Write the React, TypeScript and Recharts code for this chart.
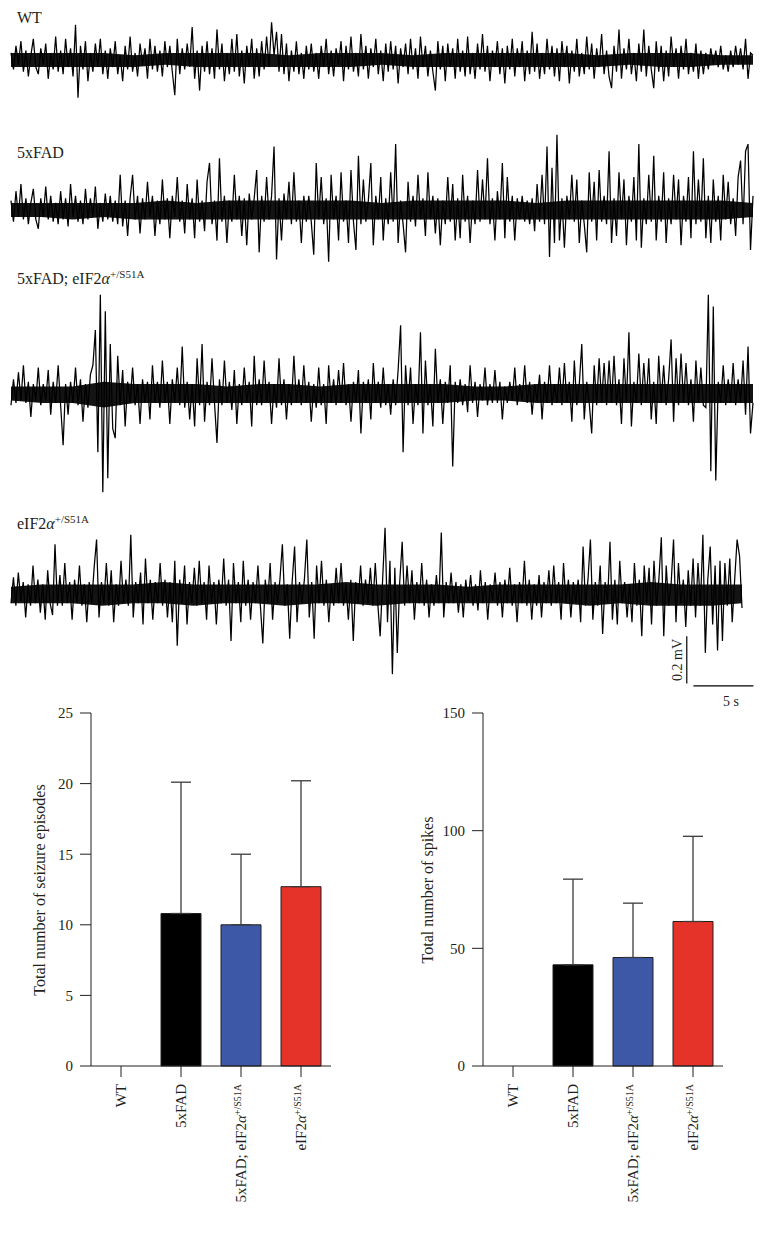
import React from "react";
import {
  ComposedChart,
  Line,
  Area,
  XAxis,
  YAxis,
  ReferenceLine,
  BarChart,
  Bar,
  Cell,
  ErrorBar,
} from "recharts";

// EEG traces, values in units of 0.01 mV
const wtTrace = [
  3, -4, 6, -2, 8, -5, 4, -7, 2, 9, -3, -6, 5, -2, 7, -8, 3, -4, 10, -5,
  4, -6, 9, -3, 5, -7, 15, -16, 6, -4, 8, -9, 3, -5, 7, -3, 9, -6, 4, -8,
  5, -3, 8, -6, 2, -9, 6, -4, 10, -5, 3, -7, 7, -2, 5, -8, 9, -4, 6, -5,
  4, -7, 8, -3, 6, -5, -15, 9, -6, 5, -4, 7, -3, 14, -8, 4, -13, 6, -5, 8,
  -6, 5, -8, 13, -4, 7, -9, 3, -6, 9, -5, 11, -7, 4, -10, 6, -3, 9, -8, 5,
  -7, 8, -4, 10, -3, 16, 2, 12, -5, 11, -6, 7, -9, 4, -5, 8, -6, 3, -8, 6,
  -4, 7, -5, 3, -8, 6, -3, 9, -6, 4, -7, 5, -2, 8, -9, 6, -4, 10, -5, 3,
  -7, 11, -4, 6, -8, 5, -3, 9, -6, 4, -9, 7, -5, 8, -4, 6, -10, 5, -3, 7,
  -6, 9, -4, 5, -8, 10, -3, 6, -7, 4, -5, -13, 8, -4, 6, -9, 7, -3, 5, -8,
  9, -5, 4, -7, 10, -6, 3, -8, 7, -4, 11, -5, 6, -9, 4, -3, 8, -6, 5, -10,
  6, -4, 9, -7, 5, -3, 8, -9, 4, -6, 12, -5, 7, -8, 3, -6, 9, -4, 6, -7,
  5, -9, 8, -3, 6, -10, 4, -5, 9, -7, 3, -6, 10, -4, 7, -8, 5, -3, 11, -6,
  4, -7, -12, 6, -5, 13, -8, 5, -4, 9, -6, 3, -9, 7, -5, 13, -7, 6, -4, -12,
  8, -5, 6, -9, 4, -7, 10, -3, 5, -8, 6, -4, 9, -6, 3, -5, 7, -8, 4, -6,
  3, -4, 5, -2, 4, -3, 6, -4, 2, -5, 4, -3, 6, -2, 5, -4, 9, -8, 3, 2,
];

const fadTrace = [
  4, -5, 8, -3, 11, -4, 5, -6, 3, 9, -4, -8, 5, -3, 10, -4, 6, -5, 3, -6,
  8, -4, 5, -7, 11, -3, 6, -5, 4, -6, 9, -4, 5, -3, 10, -8, 3, -5, 7, -4,
  6, -5, 4, -6, 15, -7, 4, -11, 5, 15, -4, 6, -10, 5, -4, 12, -3, 6, -11, 4,
  -6, 13, -4, 5, -12, 6, -3, 14, -5, 4, -10, 11, -4, 5, -12, 13, -5, 4, -9, 12,
  20, -6, 4, -13, 22, -5, 6, -14, 4, -5, 15, -4, 6, -11, 5, -15, 7, -4, 5, 17,
  -18, 6, -5, 14, -4, 6, 27, -21, 5, -13, 7, -4, 12, -6, 16, -5, 4, -14, 6, -5,
  6, -5, -19, 20, -4, 14, -6, 5, -22, 15, -4, 6, -13, 16, -5, 4, -14, 17, -5, -17,
  23, -6, 13, -5, 4, 20, -15, 6, -4, 14, -13, 5, -6, 16, -5, 28, -14, 4, -6, -18,
  12, -5, 6, -7, 15, -4, 5, -11, 16, -4, 6, -10, 5, -15, 4, -6, 14, -5, 11, -13,
  5, -12, 15, -5, 6, -14, 4, -6, 17, -5, 13, -4, 22, -6, 5, -13, 8, -4, 20, -12,
  14, -5, 6, -13, 5, -4, 6, -5, 4, -6, 5, -9, 11, -5, 15, -6, 27, -20, 18, -14,
  32, -13, 5, -16, 6, -4, 15, -5, 13, -14, 4, -6, -18, 16, -5, 12, -13, 17, -5, 6,
  -6, 25, -14, 5, -11, 16, -4, 13, -15, 6, -5, 14, -13, 28, -16, 5, -6, 15, -5, 23,
  -13, 6, -5, 16, -14, 5, -6, 15, -4, 13, -15, 6, -5, 14, -12, 25, -6, 13, -5, 22,
  -12, 6, -14, 13, -5, 6, -13, 15, -4, 12, -6, 5, -11, 14, 21, -6, 25, 28, -17, 6,
];

const fadS51aTrace = [
  -5, 6, -4, 9, -3, 12, -4, 5, -10, 4, -3, 11, -5, 4, -3, 10, -9, 5, -4, 12,
  -5, -22, 4, -9, 5, -4, 11, -5, 6, -12, 4, -6, 8, 12, 27, -25, 42, -42, 35, -36,
  21, -15, -19, 16, -5, 10, -14, 5, -4, 11, -5, 4, -13, 6, -4, 5, -11, 12, -4, 5,
  -6, 14, -4, 5, -13, 6, -4, 11, -5, 20, -6, 5, -11, 4, -14, 15, -5, 21, -12, 5,
  -5, 15, -4, -21, 6, -5, 14, -4, 5, -7, 10, -13, 4, -5, 11, -4, 5, -14, 16, -5,
  6, -5, 14, -4, 5, -13, 4, -6, 15, -5, 6, -11, 4, -5, 16, -4, 6, -5, 12, -4,
  5, -12, 4, -6, 11, -5, 4, -13, 12, -4, 6, -5, 10, -4, 13, -5, 4, -12, 5, -4,
  10, -17, 5, -4, 6, -11, 13, -4, 5, -6, 11, -5, 4, -9, 6, -5, 10, 29, -25, 12,
  -5, 11, -13, 4, -5, 26, -17, 14, -5, 4, -14, 19, -4, 6, -13, 5, -4, 12, -31, 5,
  -4, 6, -5, 4, -8, 12, -4, 5, -10, 4, -3, 11, -5, 4, -4, 10, -4, 5, -11, 3,
  -4, 5, -3, 11, -5, 4, -3, 12, -4, 5, -9, 4, -3, 8, -11, 5, -4, 12, -5, 4,
  -4, 11, -5, 13, -4, 5, -12, 14, -5, 4, 21, -11, 5, -4, -17, 12, -5, 15, -4, 13,
  -5, 14, -4, 16, -5, 6, -13, 15, -4, 26, -14, 5, -4, 17, -5, 13, -4, 15, -11, 5,
  -13, 16, -4, 12, -5, 6, 23, -12, 15, -5, 17, -4, 13, -5, 6, -12, 14, -4, 11, -5,
  -6, 42, -33, 37, -37, 5, -4, 12, -5, 6, -4, 13, -5, 6, -4, 14, -9, 20, -17, -4,
];

const s51aTrace = [
  -4, 7, -5, 9, -3, 5, -10, 4, -5, 12, -4, 6, -8, 4, -11, 10, -4, -9, 21, -5,
  8, -5, 13, -4, 5, -11, 6, -4, 12, -5, 4, -12, 5, -4, 11, 23, -10, 5, -4, 13,
  -5, 10, -12, 4, -5, 14, -4, 6, -5, 25, -10, 5, -4, 9, -13, 15, -4, 6, -11, 5,
  -4, 13, -5, 6, -10, 5, -12, 14, -22, 6, -4, 12, -13, 5, -4, 11, -5, 14, -4, 5,
  -11, 12, -4, 5, -13, 6, -4, 15, -5, 6, -20, 13, -4, 5, -12, 14, -5, 6, -11, 5,
  -4, 12, -5, -21, 6, -4, 13, -11, 5, -4, 6, 21, -5, 4, -19, 5, 20, -12, 5, -4,
  6, 23, -10, 5, -19, 12, -4, 14, -5, 6, -12, 4, -5, 11, -4, 13, -5, 4, -11, 6,
  -20, 5, -4, 12, -5, 6, -4, 11, -5, 13, -4, -18, 6, 28, -12, 14, -34, 11, -25, 5,
  22, -5, 12, -4, 10, -11, 5, -4, 13, -5, 6, -10, 4, -5, 8, -4, 26, -10, 5, -4,
  9, -4, 5, -8, 4, -10, 6, -3, 8, -5, 4, -7, 10, -4, 5, -11, 4, -3, 9, -5,
  5, -10, 6, -4, 11, -5, 4, -12, 5, -4, 14, -5, 6, -11, 4, -5, 8, -10, 5, -4,
  10, -5, 12, -4, 5, -11, 13, -4, 6, -10, 5, -4, 6, -12, 20, -5, 6, 23, -11, 5,
  -5, 12, -17, 5, -4, 22, -11, 6, -13, 14, -4, 5, -10, 4, -12, 13, -5, 6, -18, 12,
  -4, 11, -13, 14, -5, 6, 24, -18, 12, -5, 4, 23, -12, 13, -4, 6, -14, 10, -5, 15,
  -10, 13, -5, 25, -25, 6, 20, -13, 12, -24, 14, -20, 13, -5, 15, -12, 6, 23, 16, -6,
];

// solid core of each trace (upper / lower edge), 0.01 mV, evenly spaced in time
const wtCoreHi = [3, 3, 3, 3, 2, 3, 3, 3, 3, 2, 3, 3, 3, 2, 3, 3, 3, 3, 3, 2, 3, 3, 3, 2, 2];
const wtCoreLo = [-3, -3, -3, -3, -3, -2, -3, -3, -3, -3, -3, -3, -2, -3, -3, -3, -3, -3, -3, -3, -2, -3, -3, -2, -2];
const fadCoreHi = [3, 3, 3, 3, 3, 4, 3, 4, 4, 4, 4, 4, 3, 4, 4, 4, 4, 3, 4, 4, 4, 4, 4, 4, 3];
const fadCoreLo = [-3, -3, -4, -3, -4, -4, -4, -4, -4, -4, -4, -4, -4, -4, -4, -4, -4, -4, -4, -4, -4, -4, -4, -4, -3];
const fadS51aCoreHi = [3, 3, 3, 5, 4, 4, 4, 3, 4, 4, 3, 4, 4, 4, 4, 3, 3, 4, 4, 4, 4, 4, 4, 4, 4];
const fadS51aCoreLo = [-3, -4, -4, -6, -4, -4, -4, -4, -4, -4, -4, -4, -4, -4, -4, -3, -3, -4, -4, -4, -4, -4, -4, -4, -4];
const s51aCoreHi = [3, 4, 4, 4, 4, 5, 4, 4, 4, 4, 4, 5, 4, 4, 4, 3, 4, 4, 4, 4, 4, 5, 4, 4, 4];
const s51aCoreLo = [-4, -4, -4, -5, -4, -4, -5, -4, -4, -5, -4, -4, -5, -4, -4, -4, -4, -4, -4, -5, -4, -5, -5, -5, -4];

// bar panels
const groups = ["WT", "5xFAD", "5xFAD; eIF2α+/S51A", "eIF2α+/S51A"];
const seizureMean = [0, 10.8, 10.0, 12.7];
const seizureSd = [0, 9.3, 5.0, 7.5];
const spikeMean = [0, 43.0, 46.1, 61.4];
const spikeSd = [0, 36.4, 23.1, 36.2];
const seizureTicks = [0, 5, 10, 15, 20, 25];
const spikeTicks = [0, 50, 100, 150];
const barColors = ["#000000", "#000000", "#3c58a6", "#e6332a"];

const serif = '"Liberation Serif", "Times New Roman", serif';
const ink = "#231f20";

function Genotype({ label, sup, shift }: { label: string; sup: number; shift: number }) {
  const k = label.indexOf("α");
  if (k < 0) return <>{label}</>;
  return (
    <>
      {label.slice(0, k)}
      <tspan fontStyle="italic">α</tspan>
      <tspan dy={shift} fontSize={sup}>
        {label.slice(k + 1)}
      </tspan>
    </>
  );
}

function Trace({
  data,
  coreHi,
  coreLo,
  top,
  height,
  domain,
  duration,
  right,
  children,
}: {
  data: number[];
  coreHi: number[];
  coreLo: number[];
  top: number;
  height: number;
  domain: [number, number];
  duration: number;
  right: number;
  children?: React.ReactNode;
}) {
  const rows = data.map((v, i) => ({ t: (i * duration) / (data.length - 1), mv: v / 100 }));
  const core = coreHi.map((v, i) => ({
    t: (i * duration) / (coreHi.length - 1),
    band: [coreLo[i] / 100, v / 100],
  }));
  return (
    <div style={{ position: "absolute", left: 0, top }}>
      <ComposedChart width={764} height={height} margin={{ top: 0, right, bottom: 0, left: 11 }}>
        <XAxis dataKey="t" type="number" domain={[0, duration]} hide />
        <YAxis type="number" domain={domain} hide />
        <Area
          data={core}
          dataKey="band"
          type="linear"
          stroke="none"
          fill="#000"
          fillOpacity={0.92}
          isAnimationActive={false}
        />
        <Line
          data={rows}
          dataKey="mv"
          type="linear"
          stroke="#000"
          strokeWidth={1.25}
          dot={false}
          isAnimationActive={false}
        />
        {children}
      </ComposedChart>
    </div>
  );
}

function GroupTick(props: any) {
  const { x, y, payload } = props;
  return (
    <g transform={`translate(${x},${y})`}>
      <text transform="rotate(-90)" textAnchor="end" dy="0.35em" fontSize={15} fill={ink} fontFamily={serif}>
        <Genotype label={payload.value} sup={10} shift={-5} />
      </text>
    </g>
  );
}

function GroupBars({
  left,
  means,
  sds,
  ticks,
}: {
  left: number;
  means: number[];
  sds: number[];
  ticks: number[];
}) {
  const rows = groups.map((g, i) => ({ group: g, value: means[i], err: [0, sds[i]] }));
  return (
    <div style={{ position: "absolute", left, top: 700 }}>
      <BarChart
        width={350}
        height={533}
        data={rows}
        margin={{ top: 13, right: 19, bottom: 0, left: 0 }}
      >
        <XAxis
          dataKey="group"
          interval={0}
          height={167}
          tickSize={11}
          tickMargin={7}
          tick={<GroupTick />}
          axisLine={{ stroke: ink }}
          tickLine={{ stroke: ink }}
        />
        <YAxis
          type="number"
          domain={[0, ticks[ticks.length - 1]]}
          ticks={ticks}
          width={91}
          tickSize={11}
          tickMargin={7}
          tick={{ fill: ink, fontSize: 15, fontFamily: serif }}
          axisLine={{ stroke: ink }}
          tickLine={{ stroke: ink }}
        />
        <Bar dataKey="value" barSize={40} stroke={ink} strokeWidth={1} isAnimationActive={false}>
          {rows.map((r, i) => (
            <Cell key={r.group} fill={barColors[i]} />
          ))}
          <ErrorBar dataKey="err" direction="y" width={10} stroke="#3a3a3a" strokeWidth={1.3} />
        </Bar>
      </BarChart>
    </div>
  );
}

export default function App() {
  const fullSpan = 61.8; // seconds shown in the first three traces
  const lastSpan = 60.9;
  return (
    <div
      style={{
        position: "absolute",
        left: 0,
        top: 0,
        width: 764,
        height: 1233,
        background: "#fff",
        overflow: "hidden",
      }}
    >
      <Trace data={wtTrace} coreHi={wtCoreHi} coreLo={wtCoreLo} top={20} height={80} domain={[-0.17, 0.17]} duration={fullSpan} right={11} />
      <Trace data={fadTrace} coreHi={fadCoreHi} coreLo={fadCoreLo} top={130} height={160} domain={[-0.34, 0.34]} duration={fullSpan} right={11} />
      <Trace data={fadS51aTrace} coreHi={fadS51aCoreHi} coreLo={fadS51aCoreLo} top={290} height={207} domain={[-0.44, 0.44]} duration={fullSpan} right={11} />
      <Trace data={s51aTrace} coreHi={s51aCoreHi} coreLo={s51aCoreLo} top={523} height={170} domain={[-0.42, 0.3]} duration={lastSpan} right={22}>
        <ReferenceLine
          segment={[
            { x: 56.3, y: -0.38 },
            { x: 56.3, y: -0.18 },
          ]}
          stroke="#000"
          strokeWidth={1.2}
          ifOverflow="visible"
        />
        <ReferenceLine
          segment={[
            { x: 56.85, y: -0.39 },
            { x: 61.85, y: -0.39 },
          ]}
          stroke="#000"
          strokeWidth={1.2}
          ifOverflow="visible"
        />
      </Trace>

      <GroupBars left={0} means={seizureMean} sds={seizureSd} ticks={seizureTicks} />
      <GroupBars left={392} means={spikeMean} sds={spikeSd} ticks={spikeTicks} />

      <svg
        width={764}
        height={1233}
        style={{ position: "absolute", left: 0, top: 0, pointerEvents: "none" }}
        fontFamily={serif}
        fill={ink}
      >
        <text x={17} y={23} fontSize={16}>WT</text>
        <text x={17} y={158} fontSize={16}>5xFAD</text>
        <text x={17} y={284} fontSize={16}>
          <Genotype label={groups[2]} sup={11} shift={-6} />
        </text>
        <text x={17} y={529} fontSize={16}>
          <Genotype label={groups[3]} sup={11} shift={-6} />
        </text>
        <text x={682} y={660} fontSize={14} textAnchor="middle" transform="rotate(-90 682 660)">
          0.2 mV
        </text>
        <text x={731} y={706} fontSize={14} textAnchor="middle">5 s</text>
        <text x={45} y={890} fontSize={16} textAnchor="middle" transform="rotate(-90 45 890)">
          Total number of seizure episodes
        </text>
        <text x={433} y={890} fontSize={16} textAnchor="middle" transform="rotate(-90 433 890)">
          Total number of spikes
        </text>
      </svg>
    </div>
  );
}
